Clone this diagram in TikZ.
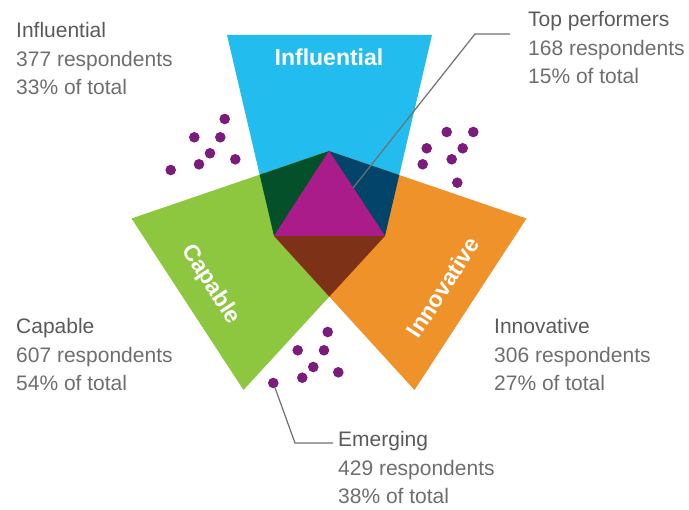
\documentclass[tikz,border=0pt]{standalone}
\usepackage{fontspec}
\setmainfont{Liberation Sans}
\definecolor{cBlue}{HTML}{22BDEE}
\definecolor{cGreen}{HTML}{8DC63F}
\definecolor{cOrange}{HTML}{F0922A}
\definecolor{cDkGreen}{HTML}{03502A}
\definecolor{cDkBlue}{HTML}{02446A}
\definecolor{cBrown}{HTML}{7D3117}
\definecolor{cMagenta}{HTML}{AA1C8A}
\definecolor{cDot}{HTML}{7B1C7D}
\definecolor{cHead}{HTML}{5A5A5A}
\definecolor{cSub}{HTML}{6E6E6E}
\definecolor{cLine}{HTML}{707070}
\begin{document}
\begin{tikzpicture}[x=1pt,y=-1pt,
  segtext/.style={text=white,font=\fontsize{23}{26}\selectfont\bfseries,inner sep=0pt},
  dot/.style={circle,fill=cDot,minimum size=10.6pt,inner sep=0pt},
  lblhead/.style={anchor=base west,inner sep=0pt,text=cHead,font=\fontsize{21}{24}\selectfont},
  lblsub/.style={anchor=base west,inner sep=0pt,text=cSub,font=\fontsize{21}{24}\selectfont},
  leader/.style={draw=cLine,line width=1.2pt}]
\useasboundingbox (0,0) rectangle (689,510);
% key points
\coordinate (A) at (329,151);
\coordinate (L) at (274,236);
\coordinate (R) at (385,236);
\coordinate (BL) at (227,35);
\coordinate (BR) at (432,35);
\coordinate (GT) at (131.5,218.5);
\coordinate (GB) at (243.5,390);
\coordinate (OT) at (526.5,218.5);
\coordinate (OB) at (414.5,390);
% base trapezoids
\fill[cBlue] (BL) -- (BR) -- (R) -- (L) -- cycle;
\fill[cGreen] (GT) -- (A) -- (R) -- (GB) -- cycle;
\fill[cOrange] (OT) -- (A) -- (L) -- (OB) -- cycle;
% overlaps
\begin{scope}
  \clip (BL) -- (BR) -- (R) -- (L) -- cycle;
  \fill[cDkGreen] (GT) -- (A) -- (R) -- (GB) -- cycle;
  \fill[cDkBlue] (OT) -- (A) -- (L) -- (OB) -- cycle;
\end{scope}
\begin{scope}
  \clip (GT) -- (A) -- (R) -- (GB) -- cycle;
  \fill[cBrown] (OT) -- (A) -- (L) -- (OB) -- cycle;
\end{scope}
\fill[cMagenta] (A) -- (L) -- (R) -- cycle;
% segment titles
\node[segtext] (tInf) at (329,57.5) {Influential};
\node[segtext,rotate=-57] (tCap) at (210.5,284.5) {Capable};
\node[segtext,rotate=57] (tInn) at (443,287) {Innovative};
% dots
\node[dot] (a1) at (224.7,119) {};
\node[dot] (a2) at (194.3,137.3) {};
\node[dot] (a3) at (220.3,137.3) {};
\node[dot] (a4) at (210,153.3) {};
\node[dot] (a5) at (235.3,159.3) {};
\node[dot] (a6) at (199,164.3) {};
\node[dot] (a7) at (170.7,170) {};
\node[dot] (b1) at (446.7,132) {};
\node[dot] (b2) at (473.3,132) {};
\node[dot] (b3) at (426.7,148.3) {};
\node[dot] (b4) at (462.7,148.3) {};
\node[dot] (b5) at (451.7,159.3) {};
\node[dot] (b6) at (422.7,164.3) {};
\node[dot] (b7) at (457.3,182.7) {};
\node[dot] (e1) at (327.7,332) {};
\node[dot] (e2) at (297.7,350.3) {};
\node[dot] (e3) at (324,350.3) {};
\node[dot] (e4) at (313.3,367) {};
\node[dot] (e5) at (338.3,372.3) {};
\node[dot] (e6) at (302.3,377.7) {};
\node[dot] (e7) at (273.3,383) {};
% labels
\node[lblhead] (inf1) at (16,38) {Influential};
\node[lblsub] (inf2) at (16,66.5) {377 respondents};
\node[lblsub] (inf3) at (16,95) {33\% of total};
\node[lblhead] (tp1) at (528,27) {Top performers};
\node[lblsub] (tp2) at (528,55.5) {168 respondents};
\node[lblsub] (tp3) at (528,84) {15\% of total};
\node[lblhead] (cap1) at (16,334) {Capable};
\node[lblsub] (cap2) at (16,362.5) {607 respondents};
\node[lblsub] (cap3) at (16,391) {54\% of total};
\node[lblhead] (inn1) at (494,334) {Innovative};
\node[lblsub] (inn2) at (494,362.5) {306 respondents};
\node[lblsub] (inn3) at (494,391) {27\% of total};
\node[lblhead] (em1) at (338,447) {Emerging};
\node[lblsub] (em2) at (338,475.5) {429 respondents};
\node[lblsub] (em3) at (338,504) {38\% of total};
% leaders
\coordinate (tpEnd) at (353,188);
\coordinate (tpBend) at (475,34);
\coordinate (tpStub) at (510,34);
\draw[leader] (tpEnd) -- (tpBend) -- (tpStub);
\coordinate (emBend) at (295,443);
\coordinate (emStub) at (333,443);
\draw[leader] (e7) -- (emBend) -- (emStub);
\end{tikzpicture}
\end{document}
